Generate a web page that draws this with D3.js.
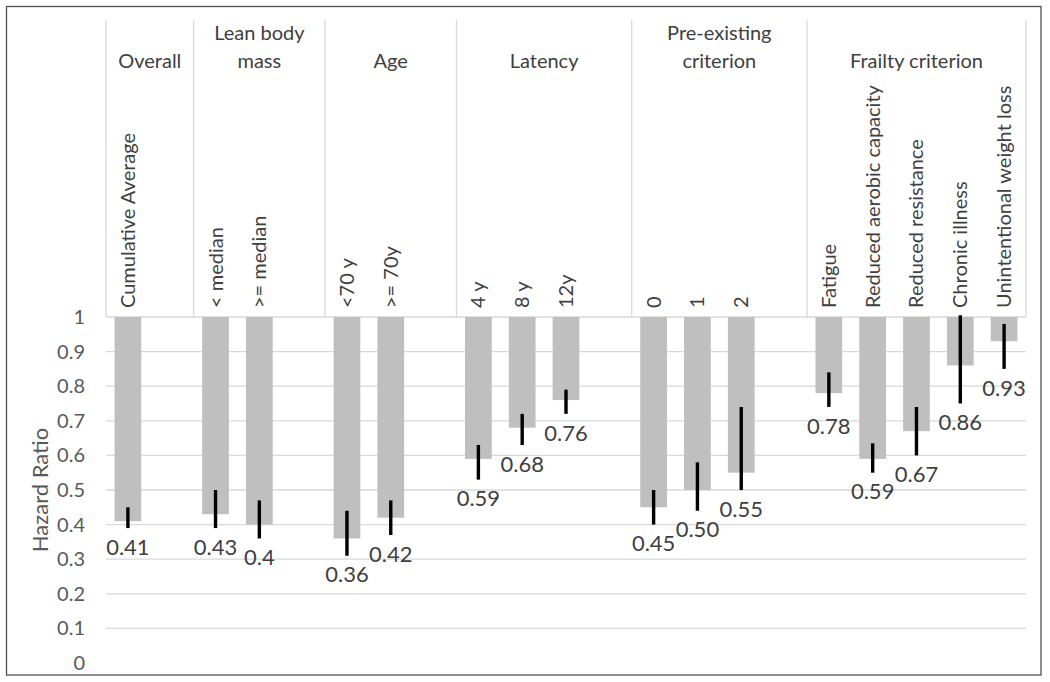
<!DOCTYPE html>
<html>
<head>
<meta charset="utf-8">
<script src="https://cdn.jsdelivr.net/npm/d3@7"></script>
<style>
  html, body { margin: 0; padding: 0; background: #fff; }
  svg { display: block; }
  text { font-family: Lato, "Noto Sans", sans-serif; }
</style>
</head>
<body>
<svg id="chart" width="1050" height="682"></svg>
<script>
// ---------------- data ----------------
const groups = [["Overall"], ["Lean body", "mass"], ["Age"], ["Latency"], ["Pre-existing", "criterion"], ["Frailty criterion"]];
const categories = ["Cumulative Average", "< median", ">= median", "<70 y", ">= 70y", "4 y", "8 y", "12y", "0", "1", "2",
  "Fatigue", "Reduced aerobic capacity", "Reduced resistance", "Chronic illness", "Unintentional weight loss"];
const groupOf = [0, 1, 1, 2, 2, 3, 3, 3, 4, 4, 4, 5, 5, 5, 5, 5];
const hazard = [0.41, 0.43, 0.40, 0.36, 0.42, 0.59, 0.68, 0.76, 0.45, 0.50, 0.55, 0.78, 0.59, 0.67, 0.86, 0.93];
const ciLow  = [0.39, 0.39, 0.36, 0.31, 0.37, 0.53, 0.63, 0.72, 0.40, 0.44, 0.50, 0.74, 0.55, 0.60, 0.75, 0.85];
const ciHigh = [0.45, 0.50, 0.47, 0.44, 0.47, 0.63, 0.72, 0.79, 0.50, 0.58, 0.74, 0.84, 0.635, 0.74, 1.005, 0.98];
const valueLabels = ["0.41", "0.43", "0.4", "0.36", "0.42", "0.59", "0.68", "0.76", "0.45", "0.50", "0.55",
  "0.78", "0.59", "0.67", "0.86", "0.93"];
const yTicks = [0, 0.1, 0.2, 0.3, 0.4, 0.5, 0.6, 0.7, 0.8, 0.9, 1];
const yTickLabels = ["0", "0.1", "0.2", "0.3", "0.4", "0.5", "0.6", "0.7", "0.8", "0.9", "1"];
const yTitle = "Hazard Ratio";

// ---------------- layout ----------------
const svg = d3.select("#chart");
const plotL = 106, plotR = 1026, plotTop = 20;
const textDark = "#404040", textMid = "#595959", gridCol = "#d9d9d9";

// slot keys: categories plus one blank slot after every group except the last
const slotKeys = [];
const catKey = [];
groups.forEach((g, gi) => {
  categories.forEach((c, i) => { if (groupOf[i] === gi) { catKey[i] = "c" + i; slotKeys.push("c" + i); } });
  if (gi < groups.length - 1) slotKeys.push("gap" + gi);
});

const x = d3.scaleBand().domain(slotKeys).range([plotL, plotR]).paddingInner(0.39).paddingOuter(0.195);
const y = d3.scaleLinear().domain([0, 1]).range([663, 317]);
const step = x.step(), bw = x.bandwidth();
const slotLeft = k => x(k) - (step - bw) / 2;
const cx = i => x(catKey[i]) + bw / 2;

// outer border
svg.append("rect").attr("x", 6.5).attr("y", 6.5).attr("width", 1034.5).attr("height", 668.5)
  .attr("fill", "none").attr("stroke", "#505050").attr("stroke-width", 1.3);

// gridlines
svg.append("g").selectAll("line").data(yTicks.filter(t => t > 0 && t < 1)).join("line")
  .attr("x1", plotL).attr("x2", plotR).attr("y1", d => y(d)).attr("y2", d => y(d))
  .attr("stroke", gridCol).attr("stroke-width", 1.3);

// category axis line at 1
svg.append("line").attr("x1", plotL).attr("x2", plotR).attr("y1", y(1)).attr("y2", y(1))
  .attr("stroke", gridCol).attr("stroke-width", 1.3);

// group boundaries
const boundaries = groups.map((g, gi) => slotLeft(catKey[groupOf.indexOf(gi)]));
boundaries.push(plotR);
svg.append("g").selectAll("line").data(boundaries).join("line")
  .attr("x1", d => d).attr("x2", d => d).attr("y1", plotTop).attr("y2", y(1))
  .attr("stroke", gridCol).attr("stroke-width", 1.3);

// group labels
const gl = svg.append("g").attr("fill", textDark).attr("font-size", 20).attr("text-anchor", "middle");
groups.forEach((g, gi) => {
  const mid = (boundaries[gi] + boundaries[gi + 1]) / 2;
  g.forEach((line, li) => {
    gl.append("text").attr("x", mid).attr("y", 61 - (g.length - 1 - li) * 28)
      .attr("dy", "0.35em").text(line);
  });
});

// rotated category labels
svg.append("g").selectAll("text").data(categories).join("text")
  .attr("transform", (d, i) => `translate(${cx(i)},308) rotate(-90)`)
  .attr("dy", "0.35em").attr("text-anchor", "start")
  .attr("fill", textDark).attr("font-size", 20).text(d => d);

// bars hanging from 1
svg.append("g").selectAll("rect").data(hazard).join("rect")
  .attr("x", (d, i) => x(catKey[i])).attr("width", bw)
  .attr("y", y(1)).attr("height", d => y(d) - y(1))
  .attr("fill", "#bfbfbf");

// confidence interval lines
svg.append("g").selectAll("line").data(hazard).join("line")
  .attr("x1", (d, i) => cx(i)).attr("x2", (d, i) => cx(i))
  .attr("y1", (d, i) => y(ciHigh[i])).attr("y2", (d, i) => y(ciLow[i]))
  .attr("stroke", "#000").attr("stroke-width", 3.4);

// value labels
svg.append("g").selectAll("text").data(valueLabels).join("text")
  .attr("x", (d, i) => cx(i)).attr("y", (d, i) => y(ciLow[i]) + 19)
  .attr("dy", "0.35em").attr("text-anchor", "middle")
  .attr("fill", textDark).attr("font-size", 22).text(d => d);

// y axis
const yAxis = d3.axisLeft(y).tickValues(yTicks).tickSize(0).tickPadding(0)
  .tickFormat((d, i) => yTickLabels[i]);
const ya = svg.append("g").attr("transform", "translate(85,0)").call(yAxis);
ya.select(".domain").remove();
ya.selectAll("text").attr("font-size", 20).attr("fill", textMid)
  .attr("font-family", "Lato, 'Noto Sans', sans-serif");

// y title
svg.append("text").attr("transform", "translate(40,490) rotate(-90)")
  .attr("dy", "0.35em").attr("text-anchor", "middle")
  .attr("fill", textMid).attr("font-size", 22).text(yTitle);
</script>
</body>
</html>
